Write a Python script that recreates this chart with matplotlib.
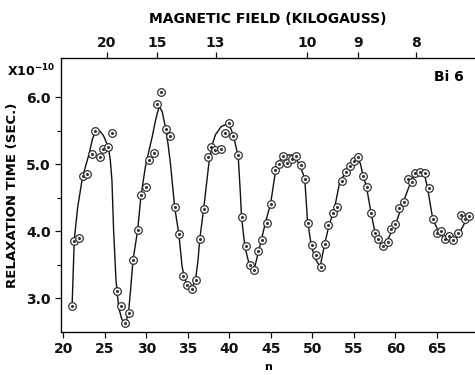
import matplotlib
matplotlib.use("Agg")
import matplotlib.pyplot as plt

# measured points (n, relaxation time x1e-10 s)
n_data = [21.05, 21.3, 21.93, 22.3, 22.86, 23.43, 23.79, 24.35, 24.79, 25.4, 25.84,
          26.45, 26.93, 27.4, 27.93, 28.38, 28.94, 29.35, 29.95, 30.35, 30.92, 31.32,
          31.8, 32.37, 32.89, 33.49, 33.97, 34.46, 34.9, 35.5, 35.94, 36.47, 36.96,
          37.44, 37.8, 38.2, 38.93, 39.41, 39.93, 40.46, 41.06, 41.46, 41.98, 42.46,
          43.0, 43.48, 43.91, 44.48, 44.96, 45.53, 46.01, 46.5, 46.98, 47.5, 48.02,
          48.59, 49.15, 49.47, 49.95, 50.48, 51.09, 51.49, 51.93, 52.49, 53.02, 53.54,
          54.02, 54.5, 55.02, 55.5, 56.04, 56.52, 57.04, 57.49, 57.92, 58.45, 59.06,
          59.49, 59.98, 60.46, 60.99, 61.47, 62.0, 62.39, 62.96, 63.53, 64.0, 64.49,
          65.0, 65.5, 65.98, 66.5, 66.98, 67.5, 67.95, 68.43, 68.91]
t_data = [2.89, 3.86, 3.90, 4.82, 4.86, 5.15, 5.50, 5.11, 5.23, 5.26, 5.46,
          3.11, 2.89, 2.64, 2.78, 3.57, 4.02, 4.54, 4.66, 5.06, 5.17, 5.90,
          6.08, 5.53, 5.42, 4.36, 3.96, 3.34, 3.20, 3.14, 3.28, 3.89, 4.33,
          5.11, 5.26, 5.21, 5.22, 5.46, 5.61, 5.42, 5.13, 4.21, 3.78, 3.50,
          3.43, 3.70, 3.87, 4.13, 4.40, 4.92, 5.01, 5.12, 5.02, 5.07, 5.12,
          4.99, 4.78, 4.13, 3.80, 3.64, 3.47, 3.81, 4.09, 4.27, 4.36, 4.75,
          4.88, 4.97, 5.05, 5.11, 4.83, 4.66, 4.27, 3.97, 3.89, 3.78, 3.84,
          4.03, 4.11, 4.34, 4.43, 4.78, 4.73, 4.87, 4.88, 4.87, 4.64, 4.18,
          3.97, 4.00, 3.89, 3.93, 3.87, 3.97, 4.25, 4.18, 4.23]

# hand-drawn smooth curve
n_curve = [21.05, 21.3, 21.7, 22.3, 23.1, 23.5, 23.95, 24.4, 24.8, 25.4, 25.65, 25.84,
           26.04, 26.2, 26.33, 26.65, 27.0, 27.33, 27.6, 27.85, 28.1, 28.38, 28.94,
           29.35, 29.87, 30.3, 30.68, 31.0, 31.3, 31.56, 31.9, 32.28, 32.6, 32.89, 33.4,
           33.89, 34.3, 34.6, 34.9, 35.42, 35.9, 36.2, 36.43, 36.9, 37.51, 37.9, 38.32,
           39.0, 39.75, 40.2, 40.53, 41.06, 41.3, 41.46, 41.86, 42.4, 42.95, 43.55,
           44.36, 44.96, 45.57, 46.17, 46.77, 47.3, 47.78, 48.5, 49.07, 49.25, 49.4,
           49.88, 50.4, 50.92, 51.49, 52.0, 52.61, 53.3, 54.02, 54.83, 55.43, 55.8,
           56.04, 56.52, 57.04, 57.56, 58.0, 58.45, 59.25, 60.06, 60.87, 61.87, 62.39,
           63.08, 63.48, 63.88, 64.49, 65.1, 65.7, 66.5, 67.3, 67.9, 68.72, 69.0]
t_curve = [2.93, 3.87, 4.35, 4.81, 5.16, 5.38, 5.51, 5.49, 5.43, 5.26, 5.05, 4.76,
           4.02, 3.60, 3.27, 2.87, 2.70, 2.63, 2.68, 2.80, 3.15, 3.57, 4.02,
           4.54, 4.96, 5.20, 5.40, 5.60, 5.76, 5.86, 5.78, 5.55, 5.30, 5.01, 4.36,
           3.97, 3.47, 3.30, 3.20, 3.15, 3.27, 3.55, 3.89, 4.34, 5.00, 5.28, 5.44,
           5.56, 5.60, 5.52, 5.40, 5.11, 4.60, 4.21, 3.77, 3.50, 3.42, 3.72,
           4.14, 4.41, 4.91, 5.08, 5.13, 5.14, 5.13, 4.98, 4.79, 4.45, 4.17,
           3.77, 3.58, 3.47, 3.82, 4.09, 4.31, 4.74, 4.88, 5.01, 5.11, 5.00,
           4.86, 4.66, 4.29, 3.97, 3.85, 3.78, 3.92, 4.12, 4.41, 4.74, 4.86,
           4.88, 4.86, 4.64, 4.19, 4.02, 3.92, 3.87, 3.89, 4.02, 4.21, 4.25]

x_ticks = [20, 25, 30, 35, 40, 45, 50, 55, 60, 65]
y_ticks = [3.0, 4.0, 5.0, 6.0]
y_minor = [3.5, 4.5, 5.5]
field_labels = ["20", "15", "13", "10", "9", "8"]
field_n = [25.24, 31.28, 38.32, 49.4, 55.5, 62.5]

ink = "#111111"
plt.rcParams["font.family"] = "DejaVu Sans"
plt.rcParams["font.weight"] = "bold"

fig = plt.figure(figsize=(4.75, 3.75), dpi=100)
ax = fig.add_axes([0.1284, 0.1147, 0.87, 0.7303])

ax.plot(n_curve, t_curve, color=ink, linewidth=1.0, zorder=2)
ax.plot(n_data, t_data, linestyle="none", marker="o", markersize=5.5,
        markerfacecolor="white", markeredgecolor="#333333", markeredgewidth=0.9, zorder=3)
ax.plot(n_data, t_data, linestyle="none", marker="o", markersize=1.2,
        color="#333333", zorder=4)

ax.set_xlim(19.7, 69.5)
ax.set_ylim(2.5, 6.58)
ax.set_xticks(x_ticks)
ax.set_yticks(y_ticks)
ax.set_yticks(y_minor, minor=True)
ax.set_yticklabels([f"{v:.1f}" for v in y_ticks])
ax.tick_params(axis="both", which="major", direction="out", length=4, width=0.9,
               labelsize=10, colors=ink)
ax.tick_params(axis="y", which="minor", direction="out", length=3, width=0.8)
for lab in ax.get_xticklabels() + ax.get_yticklabels():
    lab.set_fontweight("bold")
ax.spines["right"].set_visible(False)
for side in ["left", "bottom", "top"]:
    ax.spines[side].set_linewidth(0.9)
    ax.spines[side].set_color(ink)

top = ax.twiny()
top.set_xlim(ax.get_xlim())
top.set_xticks(field_n)
top.set_xticklabels(field_labels, fontweight="bold")
top.tick_params(axis="x", direction="out", length=4, width=0.9, labelsize=10,
                colors=ink, pad=2)
top.spines["right"].set_visible(False)

ax.set_xlabel("n", fontsize=8, fontweight="bold", labelpad=4)
ax.set_ylabel("RELAXATION TIME (SEC.)", fontsize=9.5, fontweight="bold", labelpad=5)
top.set_xlabel("MAGNETIC FIELD (KILOGAUSS)", fontsize=10, fontweight="bold", labelpad=9)

fig.text(0.015, 0.812, r"X10$^{\mathbf{-10}}$", fontsize=9, fontweight="bold",
         va="center", ha="left")
ax.text(0.975, 0.955, "Bi 6", transform=ax.transAxes, fontsize=10,
        fontweight="bold", ha="right", va="top")

fig.savefig("out.png", dpi=100)
